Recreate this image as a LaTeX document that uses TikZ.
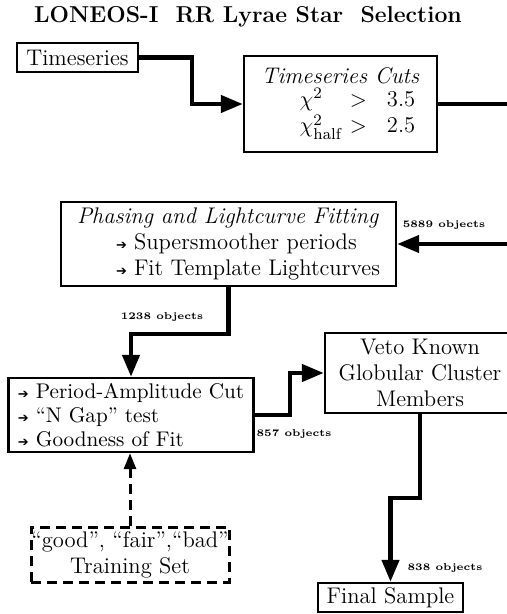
\documentclass[tikz,border=0pt]{standalone}
\usepackage{fontspec}
\newfontfamily\arrowglyph{DejaVu Sans}
\usetikzlibrary{arrows.meta}
\newcommand{\bul}{\makebox[9pt][l]{\arrowglyph\fontsize{6.5}{7}\selectfont ➔}}

\begin{document}
\begin{tikzpicture}[
    x=0.5pt, y=-0.5pt,
    every node/.style={font=\fontsize{11.3}{13}\selectfont},
    box/.style={draw, line width=1.2pt, inner sep=0pt, align=center},
    tag/.style={font=\fontsize{5}{6}\selectfont\bfseries},
    flow/.style={-{Triangle[length=11pt, width=8.5pt]}, line width=2.2pt},
    hint/.style={-{Triangle[length=8pt, width=6pt]}, line width=1.5pt, dash pattern=on 5pt off 3pt}
]
\useasboundingbox (0,0) rectangle (507,614);
\clip (0,0) rectangle (507,614);

\node[font=\fontsize{11.5}{13}\selectfont\bfseries] (title) at (248,17) {LONEOS-I\ \ RR Lyrae Star\ \ Selection};

\node[box, minimum width=60.5pt, minimum height=14.5pt] (tseries) at (77.5,57.5) {Timeseries};
\node[box, minimum width=96.5pt, minimum height=48pt] (cuts) at (340.5,104)
    {\textit{Timeseries Cuts}\\[1.5pt]\hspace*{17pt}\begin{tabular}{@{}l@{\hspace{4pt}}c@{\hspace{10pt}}l@{}}
      $\chi^2$ & $>$ & 3.5\\
      $\chi^2_{\mathrm{half}}$ & $>$ & 2.5
    \end{tabular}};
\node[box, minimum width=167.5pt, minimum height=42pt, align=left] (phase) at (228.5,244)
    {\textit{Phasing and Lightcurve Fitting}\\\hspace*{19.5pt}\bul Supersmoother periods\\\hspace*{19.5pt}\bul Fit Template Lightcurves};
\node[box, minimum width=122.5pt, minimum height=37pt, align=left, font=\fontsize{10.6}{12}\selectfont] (period) at (131,415)
    {\bul Period-Amplitude Cut\\\bul “N Gap” test\\\bul Goodness of Fit};
\node[box, minimum width=95pt, minimum height=40pt] (veto) at (420,373) {Veto Known\\Globular Cluster\\Members};
\node[box, line width=1.5pt, dash pattern=on 5pt off 3pt, minimum width=99pt, minimum height=27.5pt] (train) at (130,554.5)
    {“good”, “fair”,“bad”\\Training Set};
\node[box, minimum width=72.5pt, minimum height=14.5pt] (final) at (390.5,597.5) {Final Sample};

% counts along the way
\node[tag] (n5889) at (444,225) {5889 objects};
\node[tag] (n1238) at (162,317) {1238 objects};
\node[tag] (n857) at (294,434) {857 objects};
\node[tag] (n838) at (445,568) {838 objects};

\coordinate (knee) at (192,104);
\draw[flow] (tseries.east) -| (knee) -- (cuts.west);
\draw[flow] (cuts.east) -- ++(90,0) |- (phase.east);
\draw[flow] (phase.south) -- ++(0,47) -| (period.north);
\draw[flow] (period.east) -- ++(35,0) |- (veto.west);
\draw[flow] (veto.south) -- ++(0,84) -| (final.north);
\draw[hint] (train.north) -- (train.north |- period.south);
\end{tikzpicture}
\end{document}
